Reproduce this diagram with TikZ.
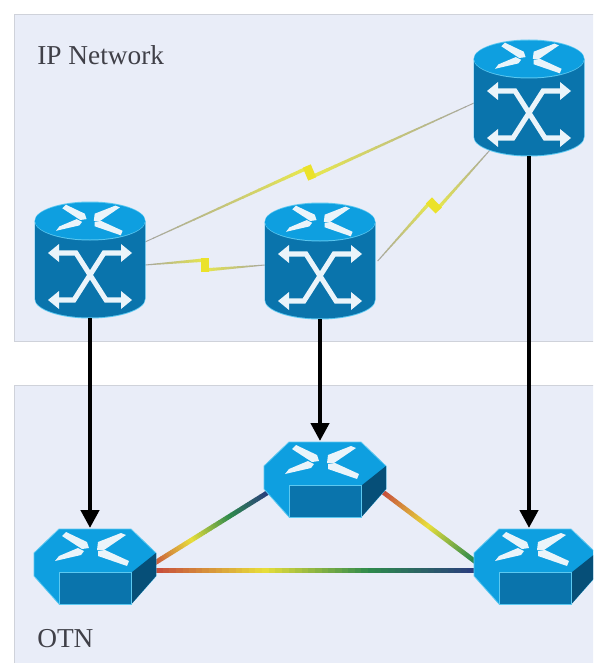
\documentclass[tikz,border=0pt]{standalone}
\usepackage{fontspec}
\setmainfont{Liberation Serif}
\usetikzlibrary{calc,arrows.meta}
\definecolor{panelc}{HTML}{E9EDF8}
\definecolor{paneledge}{HTML}{CFD2DA}
\definecolor{topc}{HTML}{0E9FE0}
\definecolor{bodyc}{HTML}{0A74AC}
\definecolor{darkc}{HTML}{064F78}
\definecolor{rimc}{HTML}{5CC8F0}
\definecolor{iconc}{HTML}{EAF4FA}
\definecolor{labelc}{HTML}{404048}
\definecolor{spr}{HTML}{C8503C}
\definecolor{spy}{HTML}{E8DE3A}
\definecolor{spg}{HTML}{2E8A4C}
\definecolor{spb}{HTML}{2A3A80}
\definecolor{zigy}{HTML}{E6E650}
\definecolor{zigg}{HTML}{A6A6A0}
\definecolor{bolty}{HTML}{EBE22A}
\tikzset{
  panel/.style={fill=panelc,draw=paneledge,line width=.6pt},
  label/.style={font=\fontsize{20.5}{24}\selectfont,text=labelc,anchor=base west,inner sep=0pt},
  routerbox/.style={inner sep=0pt,outer sep=0pt,minimum width=82.5pt,minimum height=87pt},
  otnbox/.style={inner sep=0pt,outer sep=0pt,minimum width=91.5pt,minimum height=57pt},
  iconline/.style={draw=iconc,line width=3.8pt,line join=miter},
  feed/.style={draw=black,line width=3.2pt,-{Triangle[length=13.5pt,width=13.5pt]}},
}
% arrow head: tip at #1, pointing in direction #2, scale #3
\newcommand\headat[3]{\fill[iconc,shift={(#1)},rotate=#2,scale=#3] (0,0) -- (-11,9) -- (-11,-9) -- cycle;}
% four tapered diagonal bands; coordinates from the centre of the top edge of the face
\newcommand\topicon{%
  \fill[iconc,line join=round] (-33,7) -- (-29,3) -- (-8,13) -- (-6,19) -- (-13,20) -- cycle;
  \fill[iconc,line join=round] (31,6) -- (26,4) -- (3,13) -- (2,21) -- (9,21) -- cycle;
  \fill[iconc,line join=round] (-40,32) -- (-36,27) -- (-17,19) -- (-11,22) -- (-14,26) -- cycle;
  \fill[iconc,line join=round] (32,37) -- (34,32) -- (10,21) -- (3,22) -- (3,27) -- cycle;
}
% \routerart{cx}{top}
\newcommand\routerart[2]{%
  \begin{scope}[shift={(#1,#2)}]
    \fill[rimc] (-55.5,19) -- (-55.5,97) arc[start angle=180,delta angle=-180,x radius=55.5,y radius=19.5] -- (55.5,19) -- cycle;
    \fill[bodyc] (-55,19) -- (-55,96.5) arc[start angle=180,delta angle=-180,x radius=55,y radius=19] -- (55,19) -- cycle;
    \fill[rimc] (0,19) ellipse[x radius=55.5,y radius=19.5];
    \fill[topc] (0,19) ellipse[x radius=55,y radius=18.5];
    \begin{scope}[shift={(2,0)},xscale=.9,yscale=.9]\topicon\end{scope}
    \draw[iconline] (-31,51) -- (-14,51) -- (16,98) -- (31,98);
    \draw[iconline] (31,51) -- (14,51) -- (-16,98) -- (-31,98);
    \headat{-42,51}{180}{1}\headat{42,51}{0}{1}\headat{-42,98}{180}{1}\headat{42,98}{0}{1}
  \end{scope}}
% \otnart{left}{top}
\newcommand\otnart[2]{%
  \begin{scope}[shift={(#1,#2)}]
    \fill[topc,draw=rimc,line width=.6pt,line join=round] (0,24) -- (25,0) -- (97,0) -- (122,24) -- (122,47) -- (97,75) -- (25,75) -- (0,47) -- cycle;
    \fill[darkc] (97.5,43.5) -- (122,24) -- (122,47) -- (97.5,75) -- cycle;
    \fill[bodyc,draw=rimc,line width=.4pt] (25,43.5) rectangle (97.5,75);
    \begin{scope}[shift={(61,0)}]\topicon\end{scope}
  \end{scope}}
% spectrum colour at position #1
\newcommand\specat[1]{%
  \pgfmathsetmacro\spT{#1}%
  \ifdim\spT pt<0.33pt
    \pgfmathsetmacro\spP{100*\spT/0.33}\colorlet{specc}{spy!\spP!spr}%
  \else\ifdim\spT pt<0.66pt
    \pgfmathsetmacro\spP{100*(\spT-0.33)/0.33}\colorlet{specc}{spg!\spP!spy}%
  \else
    \pgfmathsetmacro\spP{100*(\spT-0.66)/0.34}\colorlet{specc}{spb!\spP!spg}%
  \fi\fi}
% \rainbowlink{from}{to}{spectrum fraction reached at the end}
\newcommand\rainbowlink[3]{%
  \foreach \i in {0,...,47}{%
    \pgfmathsetmacro\sA{\i/48}\pgfmathsetmacro\sB{(\i+1.15)/48}%
    \specat{min(1,\sA*#3)}%
    \draw[specc,line width=3.6pt] ($(#1)!\sA!(#2)$) -- ($(#1)!\sB!(#2)$);
  }}
% \boltlink{from}{to}: thin grey at the ends, yellow to the bolt in the middle
\newcommand\boltlink[2]{%
  \coordinate (zm) at ($(#1)!.5!(#2)$);
  \coordinate (zp) at ($(zm)!3.75pt!90:(#2)$);
  \coordinate (zq) at ($(zm)!3.75pt!-90:(#2)$);
  \foreach \i in {0,...,19}{%
    \pgfmathsetmacro\sA{\i/20}\pgfmathsetmacro\sB{(\i+1.1)/20}\pgfmathsetmacro\sC{100*\i/19}%
    \pgfmathsetmacro\sW{.7+1.9*\i/19}%
    \draw[zigy!\sC!zigg,line width=\sW pt] ($(#1)!\sA!(zp)$) -- ($(#1)!\sB!(zp)$);
    \draw[zigy!\sC!zigg,line width=\sW pt] ($(#2)!\sA!(zq)$) -- ($(#2)!\sB!(zq)$);
  }
  \draw[bolty,line width=6.5pt] ($(zm)!1.4!(zp)$) -- ($(zm)!1.4!(zq)$);}
\begin{document}
\begin{tikzpicture}[x=.75pt,y=-.75pt]
  \useasboundingbox (0,0) rectangle (593,663);
  \clip (0,0) rectangle (593,663);
  \fill[white] (0,0) rectangle (593,663);
  \path[panel] (14,14) rectangle (600,341);
  \path[panel] (14,385) rectangle (600,670);
  \node[label] (iplabel) at (37,65) {IP Network};
  \node[label] (otnlabel) at (37,647) {OTN};

  \node[routerbox] (r1) at (90,260) {};
  \node[routerbox] (r2) at (320,261) {};
  \node[routerbox] (r3) at (529,98) {};
  \node[otnbox] (o1) at (95,566) {};
  \node[otnbox] (o2) at (325,479) {};
  \node[otnbox] (o3) at (535,566) {};

  % wavelength links
  \rainbowlink{[yshift=-3.3pt]o1.east}{[yshift=-3.3pt]o3.west}{1}
  \rainbowlink{[xshift=-3pt,yshift=1pt]o1.east}{[xshift=3pt,yshift=-10pt]o2.west}{1}
  \rainbowlink{[xshift=-2pt,yshift=-10pt]o2.east}{[xshift=4pt,yshift=1pt]o3.west}{.72}

  % IP links
  \boltlink{[yshift=13.5pt]r1.east}{[yshift=-3.75pt]r3.west}
  \boltlink{[yshift=-3.75pt]r1.east}{[yshift=-3pt]r2.west}
  \boltlink{[xshift=2pt]r2.east}{[xshift=-29.25pt,yshift=4.5pt]r3.south}

  \routerart{90}{202}
  \routerart{320}{203}
  \routerart{529}{40}
  \otnart{34}{529}
  \otnart{264}{442}
  \otnart{474}{529}

  % vertical arrows
  \draw[feed] (r1.south) -- (r1.south|-o1.north);
  \draw[feed] (r2.south) -- (r2.south|-o2.north);
  \draw[feed] (r3.south) -- (r3.south|-o3.north);
\end{tikzpicture}
\end{document}
